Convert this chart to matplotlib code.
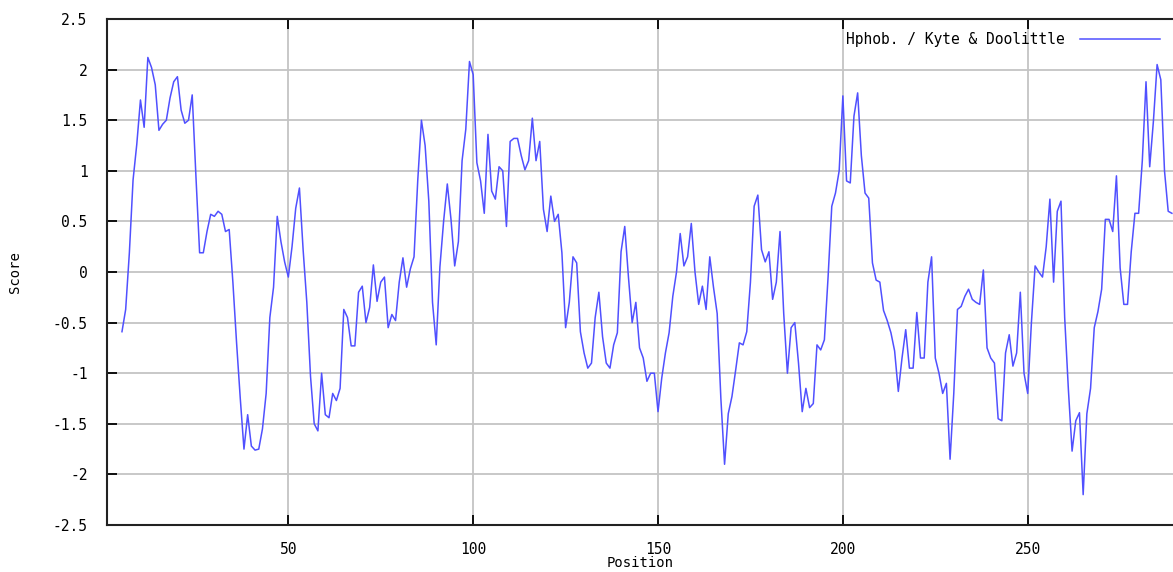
import numpy as np
import matplotlib
matplotlib.use("Agg")
import matplotlib.pyplot as plt

# Kyte & Doolittle hydropathy, window 9 -> first score at residue 5
first_pos = 5
scores = [
    -0.59, -0.37, 0.19, 0.91, 1.26, 1.7, 1.43, 2.12, 2.02, 1.85,
    1.4, 1.46, 1.5, 1.72, 1.88, 1.93, 1.6, 1.47, 1.5, 1.75,
    0.95, 0.19, 0.19, 0.4, 0.57, 0.55, 0.6, 0.57, 0.4, 0.42,
    -0.1, -0.7, -1.25, -1.75, -1.41, -1.72, -1.76, -1.75, -1.55, -1.2,
    -0.45, -0.15, 0.55, 0.3, 0.1, -0.05, 0.25, 0.63, 0.83, 0.22,
    -0.3, -1.03, -1.5, -1.57, -1.0, -1.41, -1.44, -1.2, -1.27, -1.15,
    -0.37, -0.45, -0.73, -0.73, -0.2, -0.14, -0.5, -0.35, 0.07, -0.29,
    -0.1, -0.05, -0.55, -0.42, -0.48, -0.1, 0.14, -0.15, 0.03, 0.15,
    0.9, 1.5, 1.25, 0.7, -0.3, -0.72, 0.05, 0.5, 0.87, 0.52,
    0.06, 0.3, 1.1, 1.41, 2.08, 1.95, 1.08, 0.9, 0.58, 1.36,
    0.8, 0.72, 1.04, 1.0, 0.45, 1.29, 1.32, 1.32, 1.15, 1.01,
    1.1, 1.52, 1.1, 1.29, 0.62, 0.4, 0.75, 0.5, 0.57, 0.19,
    -0.55, -0.3, 0.15, 0.09, -0.59, -0.8, -0.95, -0.9, -0.45, -0.2,
    -0.64, -0.9, -0.95, -0.72, -0.6, 0.2, 0.45, -0.05, -0.5, -0.3,
    -0.75, -0.85, -1.08, -1.0, -1.0, -1.38, -1.05, -0.8, -0.6, -0.24,
    0.0, 0.38, 0.06, 0.15, 0.48, 0.0, -0.32, -0.14, -0.37, 0.15,
    -0.15, -0.41, -1.25, -1.9, -1.4, -1.23, -0.97, -0.7, -0.72, -0.59,
    -0.1, 0.65, 0.76, 0.22, 0.1, 0.2, -0.27, -0.1, 0.4, -0.41,
    -1.0, -0.55, -0.5, -0.9, -1.38, -1.15, -1.34, -1.3, -0.72, -0.77,
    -0.67, -0.05, 0.65, 0.78, 1.0, 1.74, 0.9, 0.88, 1.54, 1.77,
    1.15, 0.78, 0.73, 0.09, -0.08, -0.1, -0.38, -0.48, -0.6, -0.78,
    -1.18, -0.85, -0.57, -0.95, -0.95, -0.4, -0.85, -0.85, -0.1, 0.15,
    -0.85, -1.0, -1.2, -1.1, -1.85, -1.2, -0.37, -0.34, -0.24, -0.17,
    -0.27, -0.3, -0.32, 0.02, -0.75, -0.85, -0.9, -1.45, -1.47, -0.8,
    -0.62, -0.93, -0.8, -0.2, -1.0, -1.2, -0.5, 0.06, 0.0, -0.05,
    0.25, 0.72, -0.1, 0.6, 0.7, -0.45, -1.16, -1.77, -1.47, -1.39,
    -2.2, -1.4, -1.15, -0.55, -0.39, -0.17, 0.52, 0.52, 0.4, 0.95,
    0.04, -0.32, -0.32, 0.2, 0.58, 0.58, 1.1, 1.88, 1.04, 1.49,
    2.05, 1.9, 1.0, 0.6, 0.58,
]
positions = np.arange(first_pos, first_pos + len(scores))

x_ticks = [50, 100, 150, 200, 250]
y_ticks = [2.5, 2, 1.5, 1, 0.5, 0, -0.5, -1, -1.5, -2, -2.5]
y_labels = ["2.5", "2", "1.5", "1", "0.5", "0", "-0.5", "-1", "-1.5", "-2", "-2.5"]

plt.rcParams['font.family'] = ['DejaVu Sans Mono']
plt.rcParams['font.size'] = 10.5

fig = plt.figure(figsize=(11.73, 5.72), dpi=100)
ax = fig.add_axes([107 / 1173, 47 / 572, 1066 / 1173, 506 / 572])

ax.plot(positions, scores, color='#5050ff', linewidth=1.1,
        label='Hphob. / Kyte & Doolittle')

ax.set_xlim(0.95, 289.3)
ax.set_ylim(-2.5, 2.5)
ax.set_xticks(x_ticks)
ax.set_yticks(y_ticks)
ax.set_yticklabels(y_labels)

ax.grid(True, color='#c4c4c4', linewidth=1.3)
ax.set_axisbelow(True)
ax.tick_params(axis='both', direction='in', length=7, width=1.3, color='black')
ax.tick_params(axis='y', pad=14)
ax.tick_params(axis='x', pad=12, top=True)

for side in ['top', 'left', 'bottom']:
    ax.spines[side].set_linewidth(1.5)
    ax.spines[side].set_color('#222222')
ax.spines['right'].set_visible(False)

ax.set_xlabel('Position', fontsize=10)
ax.xaxis.set_label_coords(0.5, -0.075)
ax.xaxis.label.set_va('center')
ax.set_ylabel('Score', labelpad=22, fontsize=10)

ax.legend(loc='upper right', bbox_to_anchor=(1.0, 1.0), markerfirst=False,
          frameon=False, handlelength=5.5, handletextpad=1.0, fontsize=10.5)

fig.savefig('out.png', dpi=100)
